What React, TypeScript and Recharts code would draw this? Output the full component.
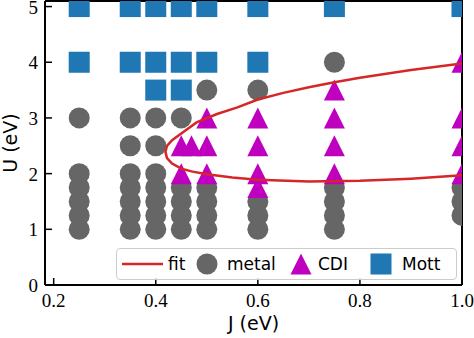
import React from 'react';
import { ScatterChart, Scatter, XAxis, YAxis, Legend } from 'recharts';

// phase diagram
const xTicks = [0.2, 0.4, 0.6, 0.8, 1.0];
const yTicks = [0, 1, 2, 3, 4, 5];
const xDomain = [0.183, 1.0];
const yDomain = [0, 5.1];
const seriesNames = ['fit', 'metal', 'CDI', 'Mott'];

const metalCols = [
  { J: 0.25, U: [1, 1.25, 1.5, 1.75, 2, 3] },
  { J: 0.35, U: [1, 1.25, 1.5, 1.75, 2, 2.5, 3] },
  { J: 0.4, U: [1, 1.25, 1.5, 1.75, 2, 2.5, 3] },
  { J: 0.45, U: [1, 1.25, 1.5, 1.75, 3] },
  { J: 0.5, U: [1, 1.25, 1.5, 1.75, 3.5] },
  { J: 0.6, U: [1, 1.25, 1.5, 3.5] },
  { J: 0.75, U: [1, 1.25, 1.5, 1.75, 4] },
  { J: 1.0, U: [1.25, 1.5, 1.75] },
];

const cdiCols = [
  { J: 0.45, U: [2, 2.5] },
  { J: 0.47, U: [2.5] },
  { J: 0.5, U: [2, 2.5, 3] },
  { J: 0.6, U: [1.75, 2, 2.5, 3] },
  { J: 0.75, U: [2, 2.5, 3, 3.5] },
  { J: 1.0, U: [2, 2.5, 3, 4] },
];

const mottCols = [
  { J: 0.25, U: [4, 5] },
  { J: 0.35, U: [4, 5] },
  { J: 0.4, U: [3.5, 4, 5] },
  { J: 0.45, U: [3.5, 4, 5] },
  { J: 0.5, U: [4, 5] },
  { J: 0.6, U: [4, 5] },
  { J: 0.75, U: [5] },
  { J: 1.0, U: [5] },
];

const fitJ = [1.0, 0.9, 0.8, 0.75, 0.7, 0.65, 0.6, 0.56, 0.52, 0.48, 0.45, 0.432, 0.422, 0.419, 0.422, 0.432, 0.45, 0.47, 0.5, 0.55, 0.6, 0.7, 0.8, 0.9, 1.0];
const fitU = [3.98, 3.86, 3.72, 3.64, 3.55, 3.45, 3.33, 3.19, 3.07, 2.92, 2.72, 2.6, 2.5, 2.39, 2.28, 2.18, 2.09, 2.04, 1.99, 1.93, 1.89, 1.86, 1.87, 1.91, 1.97];

const flatten = (cols: { J: number; U: number[] }[]) =>
  cols.flatMap((c) => c.U.map((u) => ({ J: c.J, U: u })));

const metalData = flatten(metalCols);
const cdiData = flatten(cdiCols);
const mottData = flatten(mottCols);
const fitData = fitJ.map((j, i) => ({ J: j, U: fitU[i] }));

const GRAY = '#666666';
const MAGENTA = '#bf00bf';
const BLUE = '#1f77b4';
const RED = '#d62728';
const R = 10.5;
const SERIF = '"Liberation Serif", "DejaVu Serif", serif';
const SANS = '"DejaVu Sans", sans-serif';

const MARGIN = { top: 1, right: 12, left: 0, bottom: 0 };
const Y_AXIS_W = 45;
const X_AXIS_H = 53;

const CircleMark = (p: any) => <circle cx={p.cx} cy={p.cy} r={R} fill={GRAY} />;
const TriMark = (p: any) => (
  <polygon
    points={`${p.cx},${p.cy - R} ${p.cx - R},${p.cy + R} ${p.cx + R},${p.cy + R}`}
    fill={MAGENTA}
  />
);
const SquareMark = (p: any) => (
  <rect x={p.cx - R} y={p.cy - R} width={2 * R} height={2 * R} fill={BLUE} />
);
const NoMark = () => <g />;

const XTick = (p: any) => (
  <g>
    <line x1={p.x} x2={p.x} y1={p.y} y2={p.y - 7} stroke="#000" strokeWidth={1.5} />
    <text x={p.x} y={p.y + 22} textAnchor="middle" fontFamily={SERIF} fontSize={19} style={{ fontFamily: SERIF }} fill="#000">
      {Number(p.payload.value).toFixed(1)}
    </text>
  </g>
);

const YTick = (p: any) => (
  <g>
    <line x1={p.x} x2={p.x + 7} y1={p.y} y2={p.y} stroke="#000" strokeWidth={1.5} />
    <text x={p.x - 7} y={p.y + 7} textAnchor="end" fontFamily={SERIF} fontSize={19} style={{ fontFamily: SERIF }} fill="#000">
      {p.payload.value}
    </text>
  </g>
);

// x label; also closes the axes box (top + right spines) from the axis viewBox
const XLabel = (p: any) => {
  const vb = p.viewBox;
  const right = vb.x + vb.width;
  const top = MARGIN.top;
  return (
    <g>
      <path d={`M${vb.x},${top} H${right} V${vb.y}`} fill="none" stroke="#000" strokeWidth={2} />
      <text x={vb.x + vb.width / 2} y={vb.y + 45} textAnchor="middle" style={{ fontFamily: SANS, fontSize: 19 }} fill="#000">
        J (eV)
      </text>
    </g>
  );
};

const YLabel = (p: any) => {
  const vb = p.viewBox;
  const cy = vb.y + vb.height / 2;
  return (
    <text x={17} y={cy} transform={`rotate(-90, 17, ${cy})`} textAnchor="middle" style={{ fontFamily: SANS, fontSize: 19 }} fill="#000">
      U (eV)
    </text>
  );
};

function LegendBox() {
  const ty = 21;
  const txt = { fontFamily: SANS, fontSize: 17 };
  return (
    <div
      style={{
        width: 341,
        height: 32,
        boxSizing: 'border-box',
        border: '1px solid #cccccc',
        borderRadius: 4,
        background: 'rgba(255,255,255,0.8)',
      }}
    >
      <svg width={339} height={30} style={{ display: 'block' }}>
        <line x1={5} x2={46} y1={15} y2={15} stroke={RED} strokeWidth={2.5} />
        <text x={51} y={ty} style={txt} fill="#000">{seriesNames[0]}</text>
        <circle cx={90} cy={15} r={R} fill={GRAY} />
        <text x={110} y={ty} style={txt} fill="#000">{seriesNames[1]}</text>
        <polygon points={`184,${15 - R} ${184 - R},${15 + R} ${184 + R},${15 + R}`} fill={MAGENTA} />
        <text x={201} y={ty} style={txt} fill="#000">{seriesNames[2]}</text>
        <rect x={264 - R} y={15 - R} width={2 * R} height={2 * R} fill={BLUE} />
        <text x={285} y={ty} style={txt} fill="#000">{seriesNames[3]}</text>
      </svg>
    </div>
  );
}

export default function App() {
  return (
    <div style={{ position: 'absolute', left: 0, top: 0, background: '#fff' }}>
      <ScatterChart width={474} height={338} margin={MARGIN}>
        <XAxis
          type="number"
          dataKey="J"
          domain={xDomain}
          ticks={xTicks}
          interval={0}
          allowDataOverflow
          height={X_AXIS_H}
          tickSize={0}
          tickMargin={0}
          tickLine={false}
          axisLine={{ stroke: '#000', strokeWidth: 2 }}
          tick={XTick}
          label={XLabel}
        />
        <YAxis
          type="number"
          dataKey="U"
          domain={yDomain}
          ticks={yTicks}
          interval={0}
          allowDataOverflow
          width={Y_AXIS_W}
          tickSize={0}
          tickMargin={0}
          tickLine={false}
          axisLine={{ stroke: '#000', strokeWidth: 2 }}
          tick={YTick}
          label={YLabel}
        />
        <Scatter name="metal" data={metalData} shape={CircleMark} isAnimationActive={false} />
        <Scatter name="CDI" data={cdiData} shape={TriMark} isAnimationActive={false} />
        <Scatter name="Mott" data={mottData} shape={SquareMark} isAnimationActive={false} />
        <Scatter
          name="fit"
          data={fitData}
          shape={NoMark}
          line={{ stroke: RED, strokeWidth: 2.5 }}
          lineType="joint"
          isAnimationActive={false}
        />
        <Legend
          layout="horizontal"
          verticalAlign="middle"
          align="center"
          wrapperStyle={{ left: 116, top: 248, width: 341, height: 32 }}
          content={() => <LegendBox />}
        />
      </ScatterChart>
    </div>
  );
}
